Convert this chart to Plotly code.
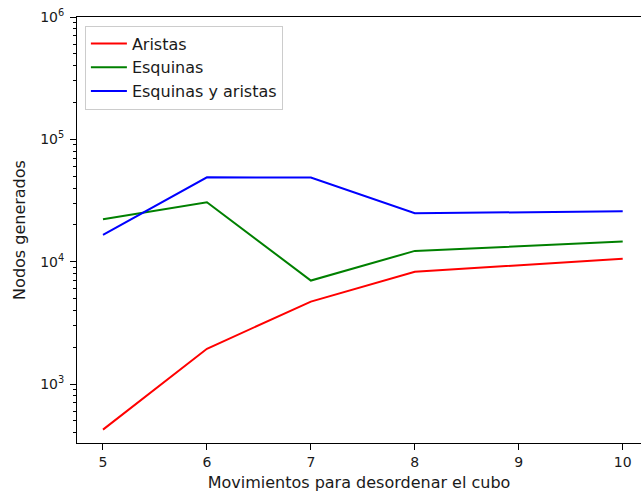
import plotly.graph_objects as go

# Scramble depth (moves) and nodes generated by each heuristic
movimientos = [5, 6, 7, 8, 10]
aristas = [424, 1940, 4720, 8260, 10590]
esquinas = [22200, 30600, 7010, 12250, 14590]
esquinas_y_aristas = [16560, 48950, 48700, 24880, 25810]

series = [
    ("Aristas", aristas, "#ff0000"),
    ("Esquinas", esquinas, "#008000"),
    ("Esquinas y aristas", esquinas_y_aristas, "#0000ff"),
]

major_vals = [1e3, 1e4, 1e5, 1e6]
major_text = ["10<sup>3</sup>", "10<sup>4</sup>", "10<sup>5</sup>", "10<sup>6</sup>"]
minor_vals = [m * 10 ** k for k in range(2, 6) for m in range(2, 10)]

fig = go.Figure()
for name, vals, color in series:
    fig.add_trace(go.Scatter(
        x=movimientos, y=vals, name=name, mode="lines",
        line=dict(color=color, width=2),
    ))

FAMILY = "DejaVu Sans"
TEXT = "#1a1a1a"
tick_font = dict(family=FAMILY, size=14, color=TEXT)
label_font = dict(family=FAMILY, size=16, color=TEXT)

fig.update_layout(
    width=641, height=496,
    margin=dict(l=77, r=0, t=17, b=53),
    paper_bgcolor="white", plot_bgcolor="white",
    font=tick_font,
    showlegend=True,
    legend=dict(
        x=0.014, y=0.98, xanchor="left", yanchor="top",
        bgcolor="rgba(255,255,255,0.8)", bordercolor="#cccccc", borderwidth=1,
        font=label_font,
        tracegroupgap=0, itemwidth=36,
    ),
    xaxis=dict(
        range=[4.75, 10.176],
        tickmode="array", tickvals=[5, 6, 7, 8, 9, 10],
        tickfont=tick_font,
        ticks="outside", ticklen=6, tickwidth=1, tickcolor="black",
        showline=True, linecolor="black", linewidth=1, mirror=True,
        showgrid=False, zeroline=False,
        title=dict(text="Movimientos para desordenar el cubo", font=label_font, standoff=8),
    ),
    yaxis=dict(
        type="log", range=[2.518, 6.0],
        tickmode="array", tickvals=major_vals, ticktext=major_text,
        tickfont=tick_font,
        ticks="outside", ticklen=6, tickwidth=1, tickcolor="black",
        ticklabelstandoff=3,
        minor=dict(tickmode="array", tickvals=minor_vals, ticks="outside",
                   ticklen=3, tickwidth=1, tickcolor="black", showgrid=False),
        showline=True, linecolor="black", linewidth=1, mirror=False,
        showgrid=False, zeroline=False,
        title=dict(text="Nodos generados", font=label_font, standoff=10),
    ),
)

fig.write_html("out.html")
